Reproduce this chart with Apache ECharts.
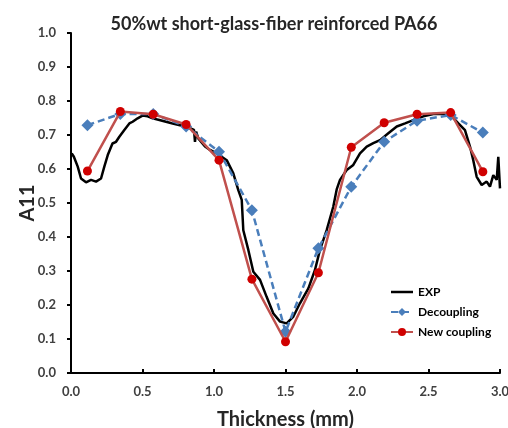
<!DOCTYPE html>
<html>
<head>
<meta charset="utf-8">
<script src="https://cdn.jsdelivr.net/npm/echarts@6/dist/echarts.min.js"></script>
<style>html,body{margin:0;padding:0;background:#fff;}#c{width:508px;height:428px;}</style>
</head>
<body>
<div id="c"></div>
<script>
const modelX = [0.115, 0.345, 0.575, 0.805, 1.035, 1.265, 1.5, 1.73, 1.96, 2.19, 2.42, 2.655, 2.88];
const decoupling = [0.729, 0.762, 0.762, 0.725, 0.651, 0.479, 0.121, 0.367, 0.548, 0.680, 0.742, 0.759, 0.707];
const newCoupling = [0.594, 0.769, 0.761, 0.731, 0.626, 0.276, 0.092, 0.295, 0.664, 0.736, 0.761, 0.766, 0.592];
const expX = [0.005,0.02,0.047,0.07,0.105,0.14,0.175,0.21,0.233,0.257,0.29,0.315,0.338,0.373,0.408,0.431,0.466,0.5,0.536,0.571,0.618,0.664,0.711,0.769,0.832,0.86,0.867,0.875,0.89,0.937,0.972,1.019,1.089,1.135,1.17,1.194,1.205,1.24,1.275,1.322,1.368,1.415,1.462,1.508,1.555,1.601,1.66,1.706,1.741,1.788,1.834,1.858,1.881,1.928,1.974,2.021,2.068,2.114,2.161,2.219,2.278,2.336,2.394,2.464,2.534,2.604,2.662,2.709,2.755,2.79,2.813,2.837,2.872,2.907,2.93,2.953,2.977,2.988,3.0];
const expY = [0.646,0.636,0.607,0.572,0.561,0.568,0.563,0.572,0.607,0.641,0.675,0.68,0.695,0.715,0.734,0.739,0.749,0.757,0.755,0.749,0.744,0.739,0.734,0.728,0.72,0.715,0.68,0.71,0.69,0.666,0.656,0.646,0.626,0.587,0.538,0.509,0.42,0.362,0.298,0.274,0.224,0.175,0.151,0.146,0.166,0.205,0.249,0.303,0.362,0.42,0.489,0.54,0.568,0.597,0.612,0.646,0.666,0.676,0.685,0.705,0.725,0.734,0.744,0.755,0.762,0.762,0.755,0.734,0.714,0.666,0.626,0.577,0.553,0.563,0.548,0.582,0.568,0.636,0.543];
const seriesNames = ['EXP', 'Decoupling', 'New coupling'];
const titleText = '50%wt short-glass-fiber reinforced PA66';

const zip = (xs, ys) => xs.map((x, i) => [x, ys[i]]);
const FONT = 'Lato';
const chart = echarts.init(document.getElementById('c'), null, {renderer: 'canvas'});
chart.setOption({
  animation: false,
  backgroundColor: '#fff',
  title: {
    text: titleText, left: 269, top: 10, textAlign: 'center',
    textStyle: {fontFamily: FONT, fontSize: 18, fontWeight: 'bold', color: '#262626'}
  },
  grid: {left: 71, right: 8, top: 33, bottom: 55, containLabel: false, outerBoundsMode: 'none'},
  legend: {
    orient: 'vertical', left: 385, top: 281, itemGap: 8, itemWidth: 22, itemHeight: 10,
    data: [
      {name: seriesNames[0], icon: 'path://M0,0 L22,0 L22,2.5 L0,2.5 Z'},
      {name: seriesNames[1]},
      {name: seriesNames[2]}
    ],
    textStyle: {fontFamily: FONT, fontSize: 12, fontWeight: 'bold', color: '#000'}
  },
  xAxis: {
    type: 'value', min: 0, max: 3, interval: 0.5,
    name: 'Thickness (mm)', nameLocation: 'middle', nameGap: 37, nameMoveOverlap: false,
    nameTextStyle: {fontFamily: FONT, fontSize: 20, fontWeight: 'bold', color: '#262626'},
    axisLine: {lineStyle: {color: '#000', width: 2}},
    axisTick: {inside: true, length: 4, lineStyle: {color: '#000', width: 2}},
    axisLabel: {margin: 12, fontFamily: FONT, fontSize: 13, fontWeight: 'bold', color: '#404040', formatter: v => v.toFixed(1)},
    splitLine: {show: false}
  },
  yAxis: {
    type: 'value', min: 0, max: 1, interval: 0.1,
    name: 'A11', nameLocation: 'middle', nameGap: 33, nameRotate: 90, nameMoveOverlap: false,
    nameTextStyle: {fontFamily: FONT, fontSize: 20, fontWeight: 'bold', color: '#262626'},
    axisLine: {show: true, lineStyle: {color: '#000', width: 2}},
    axisTick: {show: true, inside: false, length: 4, lineStyle: {color: '#000', width: 2}},
    axisLabel: {margin: 15, fontFamily: FONT, fontSize: 13, fontWeight: 'bold', color: '#404040', formatter: v => v.toFixed(1)},
    splitLine: {show: false}
  },
  series: [
    {
      name: seriesNames[0], type: 'line', data: zip(expX, expY), showSymbol: false, symbol: 'none',
      lineStyle: {color: '#000', width: 2.5}, itemStyle: {color: '#000'}, z: 2
    },
    {
      name: seriesNames[1], type: 'line', data: zip(modelX, decoupling),
      symbol: 'diamond', symbolSize: 12,
      lineStyle: {color: '#4a7ebb', width: 2.5, type: [7, 4]}, itemStyle: {color: '#4a7ebb'}, z: 3
    },
    {
      name: seriesNames[2], type: 'line', data: zip(modelX, newCoupling),
      symbol: 'circle', symbolSize: 9,
      lineStyle: {color: '#c0504d', width: 2.5}, itemStyle: {color: '#d00000'}, z: 4
    }
  ]
});
</script>
</body>
</html>
